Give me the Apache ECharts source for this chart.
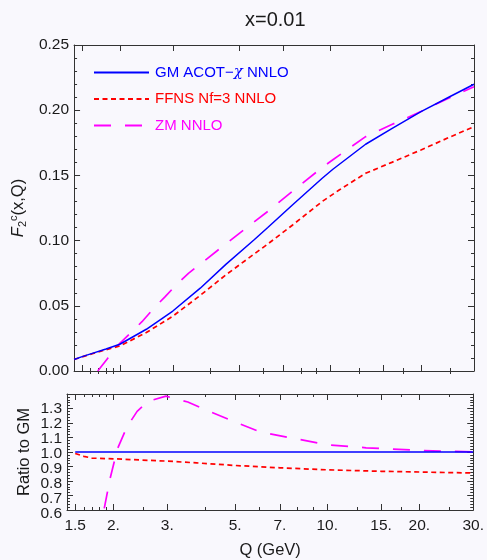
<!DOCTYPE html>
<html>
<head>
<meta charset="utf-8">
<script src="https://cdn.jsdelivr.net/npm/echarts@6/dist/echarts.min.js"></script>
<style>
  html, body { margin: 0; padding: 0; background: #f9f8fd; }
  #chart { width: 487px; height: 560px; }
</style>
</head>
<body>
<div id="chart"></div>
<script>
// F2c(x,Q) at x=0.01
const gmQ = [1.41, 1.5, 1.63, 1.8, 2.0, 2.45, 3.0, 3.7, 4.5, 5.6, 6.2, 7.5, 9.4, 10.2, 13.1, 16, 20, 25, 30]
const gmF2 = [0.0088, 0.011, 0.0137, 0.0169, 0.0205, 0.032, 0.046, 0.0635, 0.0818, 0.1008, 0.110, 0.1275, 0.1478, 0.1547, 0.1739, 0.1858, 0.1989, 0.2105, 0.2199]

const ffnsQ = [1.41, 1.5, 1.63, 1.8, 2.0, 2.45, 3.0, 3.7, 4.5, 5.6, 6.2, 7.5, 9.4, 10.7, 13.1, 16, 20, 25, 30]
const ffnsF2 = [0.0088, 0.0108, 0.0134, 0.0163, 0.0192, 0.0295, 0.042, 0.058, 0.0737, 0.0899, 0.0974, 0.112, 0.130, 0.1388, 0.1516, 0.160, 0.1695, 0.1795, 0.1874]

const zmQ = [1.69, 1.83, 2.0, 2.37, 2.59, 2.83, 3.09, 3.38, 3.72, 4.5, 5.6, 6.2, 7.5, 9.4, 10.2, 13.1, 16, 20, 25, 30]
const zmF2 = [0, 0.0102, 0.0212, 0.0378, 0.048, 0.057, 0.0665, 0.0749, 0.0824, 0.0975, 0.1145, 0.1224, 0.138, 0.1561, 0.162, 0.1797, 0.189, 0.199, 0.2098, 0.218]

// ratio to GM
const gmRatioQ = [1.5, 30]
const gmRatio = [1.0, 1.0]
const ffnsRatioQ = [1.5, 1.6, 1.7, 2.0, 3.0, 3.74, 5, 7, 10, 15, 20, 30]
const ffnsRatio = [0.99, 0.97, 0.958, 0.953, 0.937, 0.925, 0.907, 0.891, 0.877, 0.867, 0.862, 0.855]
const zmRatioQ = [1.8, 1.86, 1.95, 2.06, 2.21, 2.39, 2.6, 2.97, 3.5, 3.96, 5, 6, 7.5, 10, 13.4, 20, 30]
const zmRatio = [0.4, 0.595, 0.817, 1.02, 1.17, 1.28, 1.35, 1.385, 1.345, 1.295, 1.207, 1.14, 1.10, 1.05, 1.029, 1.011, 1.0]

const majorQ = [1.5, 2, 3, 5, 7, 10, 15, 20, 30]
const minorQ = [1.6, 1.7, 1.8, 1.9, 2.5, 4, 6, 8, 9, 12.5, 17.5, 25]
// ratio tick labels, split in two sets so neighbours never collide
const ratioTicksA = [0.6, 0.8, 1.0, 1.2]
const ratioTicksB = [0.7, 0.9, 1.1, 1.3]

const names = ['GM ACOT−χ NNLO', 'FFNS Nf=3 NNLO', 'ZM NNLO']
const colors = ['#0000ff', '#ff0000', '#ff00ff']

const lg = Math.log10
const xmin = lg(1.41)
const xmax = lg(30)
const frame = '#333'
const txt = '#1a1a1a'
const font = 'Liberation Sans, Arial, sans-serif'

const pairs = (qs, vs) => qs.map((q, i) => [lg(q), vs[i]])

const fmtQ = (v) => {
  const r = Math.round(Math.pow(10, v) * 10) / 10
  return Number.isInteger(r) ? r + '.' : String(r)
}

const xAxisFor = (grid, position, values, len, showLabel, extra) => Object.assign({
  type: 'value',
  gridIndex: grid,
  position,
  min: xmin,
  max: xmax,
  axisLine: { show: true, onZero: false, lineStyle: { color: frame, width: 1 } },
  splitLine: { show: false },
  axisTick: { show: true, inside: true, length: len, customValues: values.map(lg), lineStyle: { color: frame } },
  axisLabel: {
    show: showLabel, customValues: values.map(lg), formatter: fmtQ, showMinLabel: true,
    color: txt, fontSize: 15.5, fontFamily: font, margin: 8
  }
}, extra || {})

const ratioLabelAxis = (values) => ({
  type: 'value', gridIndex: 2, position: 'left', min: 0.6, max: 1.4,
  axisLine: { show: false },
  axisTick: { show: false },
  splitLine: { show: false },
  axisLabel: {
    customValues: values, formatter: (v) => v.toFixed(1),
    showMinLabel: true, showMaxLabel: true,
    color: txt, fontSize: 15.5, fontFamily: font, margin: 5
  }
})

const lineStyles = [
  { color: colors[0], width: 1.5, type: 'solid' },
  { color: colors[1], width: 1.7, type: [5, 3.5] },
  { color: colors[2], width: 1.7, type: [17, 14] }
]

const mkSeries = (i, data, xi, yi) => ({
  name: names[i],
  type: 'line',
  xAxisIndex: xi,
  yAxisIndex: yi,
  data,
  symbol: 'none',
  smooth: false,
  lineStyle: lineStyles[i],
  itemStyle: { color: colors[i] },
  clip: true,
  z: 3 - i
})

const chart = echarts.init(document.getElementById('chart'))
chart.setOption({
  backgroundColor: '#f9f8fd',
  animation: false,
  title: {
    text: 'x=0.01',
    left: 240,
    top: 5,
    textStyle: { fontSize: 20, fontWeight: 'normal', color: txt, fontFamily: font }
  },
  legend: {
    orient: 'vertical',
    left: 88,
    top: 60,
    itemWidth: 55,
    itemHeight: 14,
    itemGap: 11.5,
    selectedMode: false,
    itemStyle: { opacity: 0 },
    data: names.map((n, i) => ({ name: n, textStyle: { color: colors[i] } })),
    formatter: (n) => n.replace('χ', '{i|χ}'),
    textStyle: {
      fontSize: 15, fontFamily: font, padding: [0, 0, 0, 1],
      rich: { i: { fontStyle: 'italic', fontSize: 15, fontFamily: 'DejaVu Serif, serif' } }
    }
  },
  grid: [
    { left: 67, top: 45, width: 407, height: 326 },
    { left: 67, top: 394, width: 407, height: 120 },
    { left: 67, top: 394, width: 407, height: 120 }
  ],
  xAxis: [
    xAxisFor(0, 'bottom', majorQ, 6, false),
    xAxisFor(0, 'top', majorQ, 6, false),
    xAxisFor(0, 'bottom', minorQ, 3, false, { axisLine: { show: false } }),
    xAxisFor(0, 'top', minorQ, 3, false, { axisLine: { show: false } }),
    xAxisFor(1, 'bottom', majorQ, 6, true, {
      name: 'Q (GeV)', nameLocation: 'middle', nameGap: 32,
      nameTextStyle: { fontSize: 16.5, color: txt, fontFamily: font }
    }),
    xAxisFor(1, 'top', majorQ, 6, false),
    xAxisFor(1, 'bottom', minorQ, 3, false, { axisLine: { show: false } }),
    xAxisFor(1, 'top', minorQ, 3, false, { axisLine: { show: false } }),
    { type: 'value', gridIndex: 2, min: xmin, max: xmax, show: false }
  ],
  yAxis: [
    {
      type: 'value', gridIndex: 0, position: 'left', min: 0, max: 0.25, interval: 0.05,
      name: '{f|F}{sub|2}{sup|c}{n|(x,Q)}', nameLocation: 'middle', nameGap: 42, nameRotate: 90,
      nameTextStyle: {
        color: txt, fontFamily: font, fontSize: 16.5,
        rich: {
          f: { fontStyle: 'italic', fontSize: 16.5, fontFamily: font, color: txt, verticalAlign: 'middle' },
          sub: { fontSize: 11, fontFamily: font, color: txt, padding: [9, 0, 0, 0] },
          sup: { fontSize: 11, fontFamily: font, color: txt, padding: [0, 0, 9, 0] },
          n: { fontSize: 16.5, fontFamily: font, color: txt }
        }
      },
      axisLine: { show: true, lineStyle: { color: frame } },
      splitLine: { show: false },
      axisTick: { inside: true, length: 6, lineStyle: { color: frame } },
      minorTick: { show: true, splitNumber: 5, length: 3, lineStyle: { color: frame } },
      axisLabel: { formatter: (v) => v.toFixed(2), showMinLabel: true, color: txt, fontSize: 15.5, fontFamily: font, margin: 5 }
    },
    {
      type: 'value', gridIndex: 0, position: 'right', min: 0, max: 0.25, interval: 0.05,
      axisLine: { show: true, lineStyle: { color: frame } },
      splitLine: { show: false },
      axisTick: { inside: true, length: 6, lineStyle: { color: frame } },
      minorTick: { show: true, splitNumber: 5, length: 3, lineStyle: { color: frame } },
      axisLabel: { show: false }
    },
    {
      type: 'value', gridIndex: 1, position: 'left', min: 0.6, max: 1.4, interval: 0.1,
      name: 'Ratio to GM', nameLocation: 'middle', nameGap: 34, nameMoveOverlap: false,
      nameTextStyle: { fontSize: 16.5, color: txt, fontFamily: font },
      axisLine: { show: true, lineStyle: { color: frame } },
      splitLine: { show: false },
      axisTick: { inside: true, length: 6, lineStyle: { color: frame } },
      minorTick: { show: true, splitNumber: 5, length: 3, lineStyle: { color: frame } },
      axisLabel: { show: false }
    },
    {
      type: 'value', gridIndex: 1, position: 'right', min: 0.6, max: 1.4, interval: 0.1,
      axisLine: { show: true, lineStyle: { color: frame } },
      splitLine: { show: false },
      axisTick: { inside: true, length: 6, lineStyle: { color: frame } },
      minorTick: { show: true, splitNumber: 5, length: 3, lineStyle: { color: frame } },
      axisLabel: { show: false }
    },
    ratioLabelAxis(ratioTicksA),
    ratioLabelAxis(ratioTicksB)
  ],
  series: [
    mkSeries(0, pairs(gmQ, gmF2), 0, 0),
    mkSeries(1, pairs(ffnsQ, ffnsF2), 0, 0),
    mkSeries(2, pairs(zmQ, zmF2), 0, 0),
    mkSeries(0, pairs(gmRatioQ, gmRatio), 4, 2),
    mkSeries(1, pairs(ffnsRatioQ, ffnsRatio), 4, 2),
    mkSeries(2, pairs(zmRatioQ, zmRatio), 4, 2)
  ]
})
</script>
</body>
</html>
